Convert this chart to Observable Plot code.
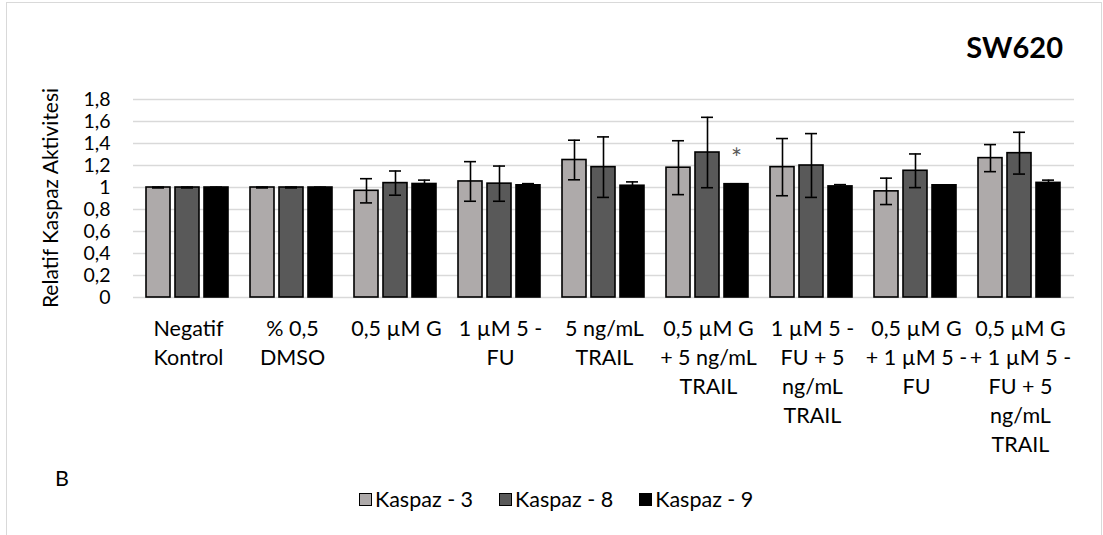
<!DOCTYPE html>
<html><head><meta charset="utf-8">
<script src="https://cdn.jsdelivr.net/npm/d3@7"></script>
<script src="https://cdn.jsdelivr.net/npm/@observablehq/plot@0.6"></script>
<style>
html,body{margin:0;padding:0;background:#fff;}
#wrap{position:relative;width:1103px;height:535px;overflow:hidden;font-family:Lato,"Open Sans",sans-serif;color:#000;}
#wrap svg{position:absolute;left:0;top:0;overflow:visible;}
#border{position:absolute;left:6px;top:2px;width:1096px;height:600px;border:1.5px solid #d9d9d9;box-sizing:border-box;}
#title{position:absolute;right:40px;top:30px;font-weight:bold;font-size:29px;line-height:34px;}
#ytitle{position:absolute;left:49px;top:198px;transform:translate(-50%,-50%) rotate(-90deg);white-space:nowrap;font-size:21px;}
#blabel{position:absolute;left:55px;top:464px;font-size:21.5px;line-height:28px;}
#legend{position:absolute;left:359px;top:485px;display:flex;gap:26px;font-size:21.5px;line-height:28px;}
#legend .it{display:flex;align-items:center;}
#legend .sw{width:11px;height:11px;border:1px solid #000;margin-right:3px;}
</style></head>
<body><div id="wrap"><div id="border"></div></div>
<script>
const categories = ["Negatif Kontrol","% 0,5 DMSO","0,5 µM G","1 µM 5 -FU","5 ng/mL TRAIL","0,5 µM G + 5 ng/mL TRAIL","1 µM 5 -FU + 5 ng/mL TRAIL","0,5 µM G + 1 µM 5 -FU","0,5 µM G + 1 µM 5 -FU + 5 ng/mL TRAIL"];
const tickLabels = ["Negatif\nKontrol","% 0,5\nDMSO","0,5 µM G","1 µM 5 -\nFU","5 ng/mL\nTRAIL","0,5 µM G\n+ 5 ng/mL\nTRAIL","1 µM 5 -\nFU + 5\nng/mL\nTRAIL","0,5 µM G\n+ 1 µM 5 -\nFU","0,5 µM G\n+ 1 µM 5 -\nFU + 5\nng/mL\nTRAIL"];
const series = ["Kaspaz - 3","Kaspaz - 8","Kaspaz - 9"];
const seriesColors = ["#aeaaaa","#595959","#000000"];
const kaspaz3 = [1.00,1.00,0.97,1.055,1.25,1.18,1.185,0.965,1.267];
const kaspaz3Err = [0.004,0.004,0.11,0.18,0.18,0.245,0.26,0.12,0.123];
const kaspaz8 = [1.00,1.00,1.04,1.035,1.185,1.318,1.20,1.152,1.312];
const kaspaz8Err = [0.004,0.004,0.11,0.16,0.275,0.32,0.29,0.153,0.19];
const kaspaz9 = [1.00,1.00,1.032,1.02,1.016,1.03,1.01,1.02,1.042];
const kaspaz9Err = [0.003,0.003,0.035,0.015,0.035,0.004,0.016,0.004,0.025];
const yTicks = [0,0.2,0.4,0.6,0.8,1,1.2,1.4,1.6,1.8];
const yTickLabels = ["0","0,2","0,4","0,6","0,8","1","1,2","1,4","1,6","1,8"];
const significant = [{cat: categories[5], series: "Kaspaz - 9", value: kaspaz9[5], err: kaspaz9Err[5], mark: "*"}];
const titleText = "SW620";
const yTitle = "Relatif Kaspaz Aktivitesi";
const panelLabel = "B";

const values = [kaspaz3, kaspaz8, kaspaz9];
const errs = [kaspaz3Err, kaspaz8Err, kaspaz9Err];
const data = [];
categories.forEach((c, i) => series.forEach((s, j) => data.push({cat: c, series: s, value: values[j][i], err: errs[j][i]})));

const FONT = "Lato, 'Open Sans', sans-serif";
const dims = {width: 1103, height: 535, marginTop: 99, marginBottom: 238, marginLeft: 133, marginRight: 29};

const bg = Plot.plot({
  ...dims,
  style: {fontFamily: FONT, fontSize: "21.5px", color: "#000", background: "transparent", overflow: "visible"},
  x: {type: "band", domain: categories, padding: 0, label: null},
  y: {domain: [0, 1.8], label: null},
  marks: [
    Plot.ruleY(yTicks, {stroke: "#d9d9d9", strokeWidth: 1.4}),
    Plot.axisY(yTicks, {tickSize: 0, tickPadding: 23, label: null, fontSize: 19.5, tickFormat: d => yTickLabels[yTicks.indexOf(d)], fill: "#000"}),
    Plot.axisX({tickSize: 0, tickPadding: 18, label: null, lineHeight: 1.35, tickFormat: d => tickLabels[categories.indexOf(d)], fill: "#000"})
  ]
});

const fg = Plot.plot({
  ...dims,
  style: {fontFamily: FONT, fontSize: "21.5px", background: "transparent", overflow: "visible"},
  fx: {domain: categories, paddingInner: 0.206, paddingOuter: 0.103, axis: null, label: null},
  x: {domain: series, paddingInner: 0.17, paddingOuter: 0, axis: null},
  y: {domain: [0, 1.8], axis: null},
  color: {domain: series, range: seriesColors},
  marks: [
    Plot.barY(data, {fx: "cat", x: "series", y: "value", fill: "series", stroke: "#000", strokeWidth: 1.6}),
    Plot.ruleX(data, {fx: "cat", x: "series", y1: d => d.value - d.err, y2: d => d.value + d.err, stroke: "#000", strokeWidth: 1.6}),
    Plot.tickY(data, {fx: "cat", x: "series", y: d => d.value - d.err, stroke: "#000", strokeWidth: 1.6, insetLeft: 6, insetRight: 6}),
    Plot.tickY(data, {fx: "cat", x: "series", y: d => d.value + d.err, stroke: "#000", strokeWidth: 1.6, insetLeft: 6, insetRight: 6}),
    Plot.text(significant, {fx: "cat", x: "series", y: d => d.value + d.err, text: "mark", fill: "#595959", fontSize: 26, dy: -24})
  ]
});

const wrap = document.getElementById("wrap");
wrap.appendChild(bg);
wrap.appendChild(fg);
const t = document.createElement("div"); t.id = "title"; t.textContent = titleText; wrap.appendChild(t);
const yt = document.createElement("div"); yt.id = "ytitle"; yt.textContent = yTitle; wrap.appendChild(yt);
const b = document.createElement("div"); b.id = "blabel"; b.textContent = panelLabel; wrap.appendChild(b);
const lg = document.createElement("div"); lg.id = "legend";
series.forEach((s, i) => {
  const it = document.createElement("div"); it.className = "it";
  const sw = document.createElement("div"); sw.className = "sw"; sw.style.background = seriesColors[i];
  const tx = document.createElement("span"); tx.textContent = s;
  it.appendChild(sw); it.appendChild(tx); lg.appendChild(it);
});
wrap.appendChild(lg);
</script>
</body></html>
